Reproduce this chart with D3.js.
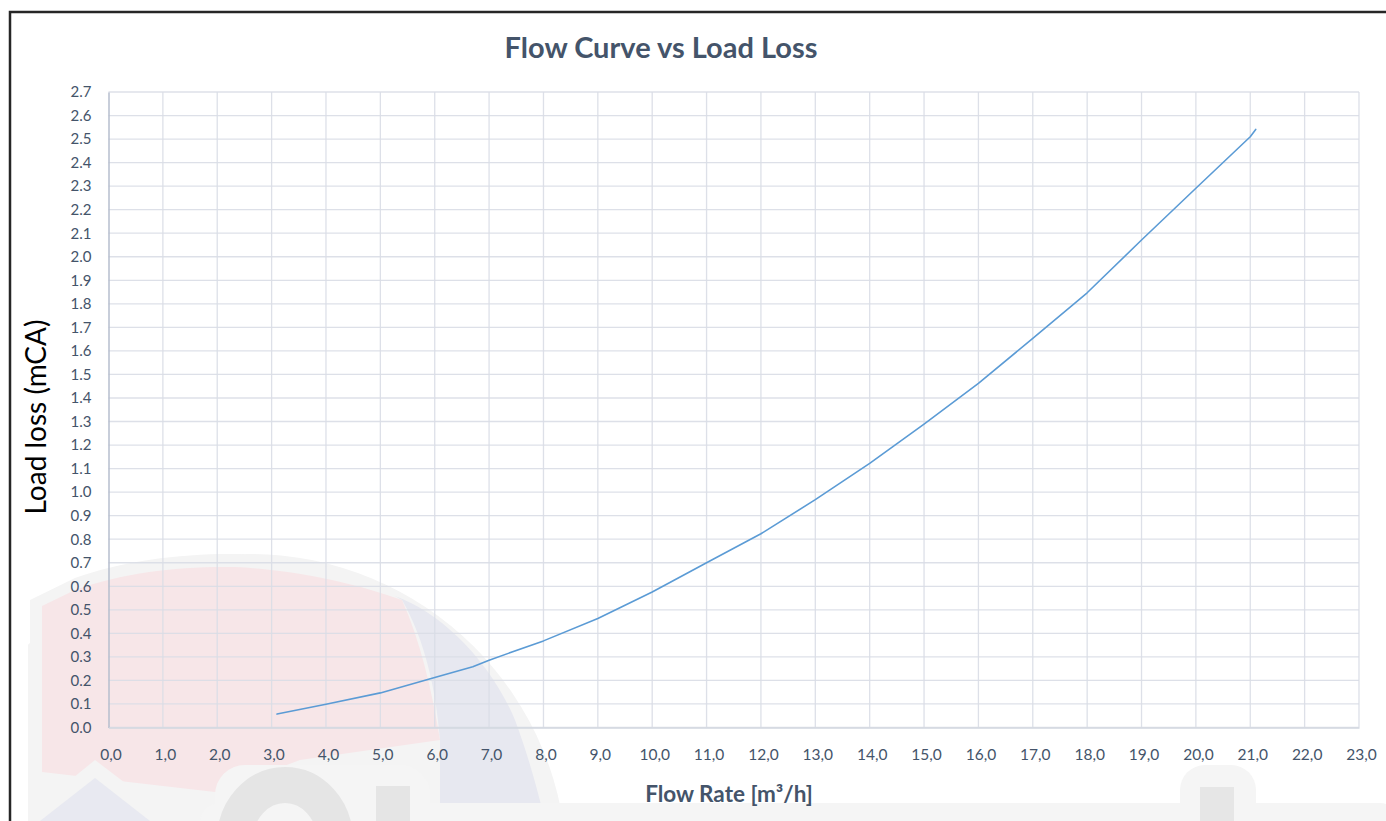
<!DOCTYPE html>
<html>
<head>
<meta charset="utf-8">
<script src="https://cdn.jsdelivr.net/npm/d3@7"></script>
<style>
  html, body { margin: 0; padding: 0; background: #fff; }
  svg { display: block; }
  text { font-family: Lato, "Open Sans", sans-serif; }
</style>
</head>
<body>
<svg id="chart" width="1386" height="821"></svg>
<script>
// ---- data ----
const flowRate = [3.1, 4.0, 5.0, 6.0, 6.7, 7.0, 8.0, 9.0, 10.0, 11.0, 12.0, 13.0, 14.0, 15.0, 16.0, 17.0, 18.0, 19.0, 20.0, 21.0, 21.1];
const loadLoss = [0.057, 0.099, 0.147, 0.212, 0.258, 0.286, 0.368, 0.463, 0.576, 0.700, 0.823, 0.968, 1.122, 1.289, 1.462, 1.653, 1.847, 2.071, 2.291, 2.510, 2.541];
const xTicks = d3.range(0, 24, 1);          // 0,0 .. 23,0
const yTicks = d3.range(0, 28).map(i => i / 10); // 0.0 .. 2.7
const title = "Flow Curve vs Load Loss";
const xTitle = "Flow Rate [m³/h]";
const yTitle = "Load loss (mCA)";

// ---- layout ----
const W = 1386, H = 821;
const plot = { left: 108.5, right: 1359, top: 92, bottom: 727.5 };
const textColor = "#44546a";

const svg = d3.select("#chart");
svg.append("rect").attr("width", W).attr("height", H).attr("fill", "#fff");

// ---- faint background watermark (decorative) ----
const wm = svg.append("g").attr("class", "watermark");
const clip = svg.append("clipPath").attr("id", "wmclip");
clip.append("rect").attr("x", 28).attr("y", 0).attr("width", W).attr("height", H);
const wmg = wm.append("g").attr("clip-path", "url(#wmclip)");
wmg.append("circle").attr("cx", 250).attr("cy", 871).attr("r", 317).attr("fill", "#f4f4f4");
wmg.append("path")
  .attr("d", "M30,600 L75,578 C125,560 185,553 240,554 C300,558 360,572 395,590 L440,740 L300,770 L220,800 L30,790 Z")
  .attr("fill", "#f4f4f4");
wmg.append("path")
  .attr("d", "M395,596 C440,612 490,660 515,720 C530,760 540,800 545,821 L440,821 L440,740 C436,690 425,640 402,600 Z")
  .attr("fill", "#e7e8f0");
wmg.append("path")
  .attr("d", "M42,606 L75,590 C125,572 180,566 235,567 C300,570 360,585 402,600 C420,640 432,690 440,740 L300,760 L215,792 L42,772 Z")
  .attr("fill", "#f7e6e8");
// bottom halo "clouds" and big grey letters
wmg.append("path").attr("d", "M20,821 L95,760 L175,821 Z").attr("fill", "#f4f4f4");
wmg.append("path").attr("d", "M40,821 L95,778 L150,821 Z").attr("fill", "#e8e9f1");
wmg.append("rect").attr("x", 200).attr("y", 803).attr("width", 1200).attr("height", 40).attr("rx", 20).attr("fill", "#f5f5f5");
wmg.append("rect").attr("x", 1180).attr("y", 765).attr("width", 76).attr("height", 70).attr("rx", 25).attr("fill", "#f5f5f5");
wmg.append("rect").attr("x", 1200).attr("y", 787).attr("width", 34).attr("height", 40).attr("fill", "#e6e6e6");
wmg.append("rect").attr("x", 215).attr("y", 765).attr("width", 215).attr("height", 70).attr("rx", 30).attr("fill", "#f5f5f5");
wmg.append("ellipse").attr("cx", 285).attr("cy", 840).attr("rx", 50).attr("ry", 55).attr("fill", "none").attr("stroke", "#e5e5e5").attr("stroke-width", 36);
wmg.append("rect").attr("x", 376).attr("y", 786).attr("width", 34).attr("height", 40).attr("fill", "#e5e5e5");

// ---- scales ----
const x = d3.scaleLinear().domain([0, 23]).range([plot.left, plot.right]);
const y = d3.scaleLinear().domain([0, 2.7]).range([plot.bottom, plot.top]);

// ---- gridlines ----
const grid = svg.append("g");
grid.selectAll("line.h").data(yTicks).enter().append("line")
  .attr("x1", plot.left).attr("x2", plot.right)
  .attr("y1", d => y(d)).attr("y2", d => y(d))
  .attr("stroke", "#d9dde6").attr("stroke-opacity", 0.9).attr("stroke-width", 1.3);
grid.selectAll("line.v").data(xTicks.slice(1)).enter().append("line")
  .attr("y1", plot.top).attr("y2", plot.bottom)
  .attr("x1", d => x(d)).attr("x2", d => x(d))
  .attr("stroke", "#d9dde6").attr("stroke-opacity", 0.9).attr("stroke-width", 1.3);

// ---- axes ----
const yAxis = d3.axisLeft(y).tickValues(yTicks).tickSize(0).tickPadding(17).tickFormat(d3.format(".1f"));
const gy = svg.append("g").attr("transform", `translate(${plot.left},0)`).call(yAxis);
gy.select(".domain").attr("stroke", "#b6bece").attr("stroke-width", 1.5);
gy.selectAll("text").attr("fill", textColor).style("font-size", "15px");

const fmtX = d => d3.format(".1f")(d).replace(".", ",");
const xAxis = d3.axisBottom(x).tickValues(xTicks).tickSize(0).tickPadding(21).tickFormat(fmtX);
const gx = svg.append("g").attr("transform", `translate(0,${plot.bottom})`).call(xAxis);
gx.select(".domain").attr("stroke", "#d3d8e1").attr("stroke-width", 1.5);
gx.selectAll("text").attr("fill", textColor).style("font-size", "15.5px").attr("dx", "2px");

// ---- data line ----
const pts = flowRate.map((f, i) => [f, loadLoss[i]]);
svg.append("path").datum(pts)
  .attr("fill", "none").attr("stroke", "#5b9bd5").attr("stroke-width", 1.6)
  .attr("stroke-linejoin", "round").attr("stroke-linecap", "round")
  .attr("d", d3.line().x(d => x(d[0])).y(d => y(d[1])));

// ---- titles ----
svg.append("text").attr("x", 661).attr("y", 58).attr("text-anchor", "middle")
  .attr("fill", textColor).style("font-size", "29px").style("font-weight", "bold").text(title);
svg.append("text").attr("x", 729).attr("y", 802).attr("text-anchor", "middle")
  .attr("fill", textColor).style("font-size", "22.5px").style("font-weight", "bold").text(xTitle);
svg.append("text").attr("transform", "translate(46,417) rotate(-90)").attr("text-anchor", "middle")
  .attr("fill", "#000").style("font-size", "28px").text(yTitle);

// ---- outer frame (only top/left visible) ----
svg.append("rect").attr("x", 10).attr("y", 12).attr("width", W + 20).attr("height", H + 20)
  .attr("fill", "none").attr("stroke", "#262626").attr("stroke-width", 2.5);
</script>
</body>
</html>
